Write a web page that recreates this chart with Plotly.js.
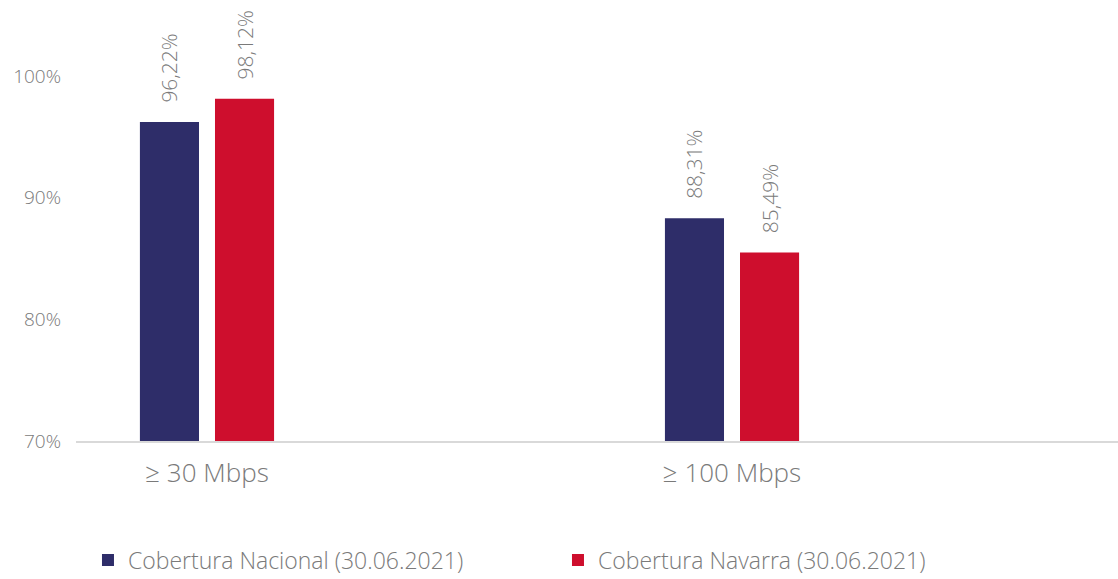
<!DOCTYPE html>
<html>
<head>
<meta charset="utf-8">
<script src="https://cdn.plot.ly/plotly-3.0.1.min.js"></script>
<style>html,body{margin:0;padding:0;background:#fff;}#chart{width:1118px;height:579px;}</style>
</head>
<body>
<div id="chart"></div>
<script>
const categories = ["≥ 30 Mbps", "≥ 100 Mbps"];
const seriesNames = ["Cobertura Nacional (30.06.2021)", "Cobertura Navarra (30.06.2021)"];
const nacional = [96.22, 88.31];
const navarra = [98.12, 85.49];
const nacionalLabels = ["96,22%", "88,31%"];
const navarraLabels = ["98,12%", "85,49%"];
const yTickVals = [70, 80, 90, 100];
const yTickText = ["70%", "80%", "90%", "100%"];
const colors = ["#2E2D69", "#CE0E2D"];

const font = "'Open Sans', Lato, sans-serif";
const grey = "#7a7a7a";

function bar(name, vals, labels, color) {
  return {
    type: "bar", name: name, x: categories, y: vals, base: 0,
    marker: {color: color},
    text: labels, texttemplate: "\u00a0\u00a0\u00a0%{text}", textposition: "outside", textangle: -90,
    constraintext: "none",
    textfont: {family: font, size: 21, color: grey, weight: 300},
    cliponaxis: false, hoverinfo: "none"
  };
}

const data = [
  bar(seriesNames[0], nacional, nacionalLabels, colors[0]),
  bar(seriesNames[1], navarra, navarraLabels, colors[1])
];

const layout = {
  width: 1118, height: 579,
  margin: {l: 76, r: 0, t: 3, b: 138, autoexpand: false},
  paper_bgcolor: "#fff", plot_bgcolor: "#fff",
  barmode: "group", bargap: 0.714, bargroupgap: 0.213,
  font: {family: font, color: grey, weight: 300},
  xaxis: {
    type: "category", range: [-0.2495, 1.7352], automargin: false,
    showline: true, linecolor: "#d9d9d9", linewidth: 2,
    ticks: "", showgrid: false, zeroline: false,
    tickfont: {family: font, size: 26, color: grey, weight: 300},
    ticklabelstandoff: 8
  },
  yaxis: {
    range: [70, 106], tickmode: "array", tickvals: yTickVals, ticktext: yTickText,
    automargin: false, showgrid: false, zeroline: false, showline: false,
    tickfont: {family: font, size: 19, color: grey, weight: 300},
    ticklabelstandoff: 14
  },
  showlegend: true,
  legend: {
    orientation: "h", x: 0.0115, xanchor: "left", y: -0.321, yanchor: "bottom",
    font: {family: font, size: 23, color: grey, weight: 300},
    entrywidth: 425, entrywidthmode: "pixels", valign: "bottom",
    itemclick: false, itemdoubleclick: false
  }
};

Plotly.newPlot("chart", data, layout, {displayModeBar: false, staticPlot: true});
</script>
</body>
</html>
